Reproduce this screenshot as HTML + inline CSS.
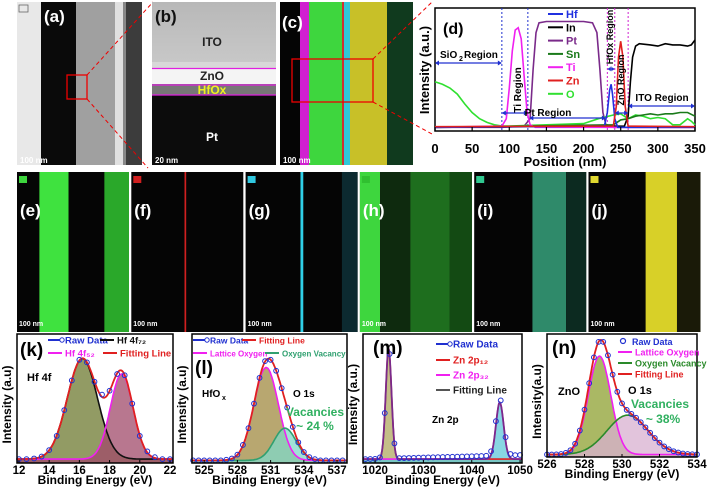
<!DOCTYPE html>
<html><head><meta charset="utf-8"><style>
html,body{margin:0;padding:0;background:#fff;}
svg{display:block;font-family:"Liberation Sans",Arial,sans-serif;}
text{font-weight:bold;}
</style></head><body>
<svg id="fig" width="708" height="490" viewBox="0 0 708 490" xmlns="http://www.w3.org/2000/svg">
<defs>
<linearGradient id="gb" x1="0" y1="0" x2="0" y2="1"><stop offset="0" stop-color="#b8b8b8"/><stop offset="1" stop-color="#c8c8c8"/></linearGradient>
</defs>
<!-- (a) -->
<g>
<rect x="17" y="2" width="125" height="163" fill="#333"/>
<rect x="17" y="2" width="24" height="163" fill="#e8e8e8"/>
<rect x="41" y="2" width="35" height="163" fill="#0a0a0a"/>
<rect x="76" y="2" width="40" height="163" fill="#a0a0a0"/>
<rect x="115" y="2" width="8" height="163" fill="#e0e0e0"/>
<rect x="123" y="2" width="3" height="163" fill="#888"/>
<rect x="126" y="2" width="16" height="163" fill="#3c3c3c"/>
<rect x="19" y="5" width="9" height="7" fill="none" stroke="#666" stroke-width="0.8"/>
<text x="44" y="22" font-size="17" fill="#fff">(a)</text>
<rect x="67" y="75" width="20" height="24" fill="none" stroke="#e00" stroke-width="1.3"/>
<text x="20" y="163" font-size="8" fill="#fff" font-weight="normal">100 nm</text>
</g>
<line x1="87" y1="75" x2="153" y2="2" stroke="#e00" stroke-dasharray="4,3" stroke-width="1"/>
<line x1="87" y1="99" x2="148" y2="168" stroke="#e00" stroke-dasharray="4,3" stroke-width="1"/>
<!-- (b) -->
<g>
<rect x="152" y="2" width="124" height="163" fill="#0c0c0c"/>
<rect x="152" y="2" width="124" height="62" fill="url(#gb)"/>
<rect x="152" y="62" width="124" height="6" fill="#d8d8d8"/>
<rect x="152" y="68" width="124" height="16" fill="#f4f4f4"/>
<rect x="152" y="84" width="124" height="11" fill="#777"/>
<line x1="152" y1="68.5" x2="276" y2="68.5" stroke="#e020e0" stroke-width="1.3"/>
<line x1="152" y1="85" x2="276" y2="85" stroke="#e020e0" stroke-width="1.3"/>
<line x1="152" y1="95" x2="276" y2="95" stroke="#e020e0" stroke-width="1.3"/>
<text x="155" y="22" font-size="17" fill="#111">(b)</text>
<text x="212" y="46" font-size="12" fill="#222" text-anchor="middle">ITO</text>
<text x="212" y="80" font-size="12" fill="#222" text-anchor="middle">ZnO</text>
<text x="212" y="94" font-size="12" fill="#f0f020" text-anchor="middle">HfOx</text>
<text x="212" y="141" font-size="12" fill="#fff" text-anchor="middle">Pt</text>
<text x="155" y="163" font-size="8" fill="#fff" font-weight="normal">20 nm</text>
</g>
<!-- (c) -->
<g>
<rect x="280" y="2" width="133" height="163" fill="#050505"/>
<rect x="300" y="2" width="9" height="163" fill="#d020d0"/>
<rect x="309" y="2" width="33" height="163" fill="#3ed63e"/>
<rect x="342" y="2" width="2" height="163" fill="#d03030"/>
<rect x="344" y="2" width="6" height="163" fill="#30c8d8"/>
<rect x="350" y="2" width="37" height="163" fill="#c8c028"/>
<rect x="387" y="2" width="26" height="163" fill="#103a1e"/>
<text x="282" y="28" font-size="17" fill="#fff">(c)</text>
<rect x="292" y="59" width="81" height="43" fill="none" stroke="#e00" stroke-width="1.3"/>
<text x="283" y="163" font-size="8" fill="#fff" font-weight="normal">100 nm</text>
</g>
<line x1="373" y1="59" x2="432" y2="2" stroke="#e00" stroke-dasharray="4,3" stroke-width="1"/>
<line x1="373" y1="102" x2="432" y2="134" stroke="#e00" stroke-dasharray="4,3" stroke-width="1"/>
<g id="pd"></g>
<g id="row2"></g>
<g id="pk"></g>
<g id="pl"></g>
<g id="pm"></g>
<g id="pn"></g>
</svg>
<script>
// ---- panel d data ----
const dTicks = [0,50,100,150,200,250,300,350];
const ptX = [0,90,120,128,132,136,140,150,200,212,218,222,226,230,240,350];
const ptY = [.03,.03,.04,.1,.5,.8,.88,.89,.89,.88,.8,.5,.15,.05,.03,.03];
const tiX = [0,90,96,100,104,108,112,116,120,124,128,135,350];
const tiY = [.03,.04,.1,.35,.65,.82,.84,.75,.45,.15,.05,.03,.03];
const hfX = [0,228,232,235,237,239,242,246,350];
const hfY = [.03,.04,.15,.33,.38,.3,.1,.03,.03];
const znX = [0,240,244,247,250,253,256,260,350];
const znY = [.035,.04,.2,.6,.73,.6,.2,.04,.035];
const inX = [0,255,260,263,266,270,275,290,300,310,320,330,340,345,350];
const inY = [.03,.04,.12,.4,.6,.69,.71,.7,.69,.71,.7,.7,.69,.7,.74];
const snX = [0,240,250,260,270,280,290,300,310,320,330,340,350];
const snY = [.03,.05,.09,.1,.12,.13,.14,.13,.14,.14,.15,.15,.12];
const oX = [0,5,10,20,30,40,50,60,70,80,90,100,150,200,220,240,250,260,270,280,290,300,310,320,330,340,345,350];
const oY = [.4,.39,.38,.35,.3,.22,.15,.1,.07,.05,.04,.04,.05,.06,.1,.13,.14,.1,.13,.12,.1,.11,.1,.05,.05,.1,.08,.05];
const dBounds = [90,125,232,242,260];
// ---- XPS data ----
const kCenters=[16.2,18.8], kAmps=[0.78,0.66], kWidths=[1.0,0.75], kTicks=[12,14,16,18,20,22];
const kRawX=[12,12.5,13,13.5,14,14.5,15,15.5,16,16.5,17,17.5,18,18.5,19,19.5,20,20.5,21,21.5,22];
const kRawY=[.03,.03,.035,.05,.10,.21,.41,.64,.80,.78,.63,.53,.56,.69,.68,.46,.21,.09,.045,.03,.03];
const lCenters=[530.6,532.3], lAmps=[0.72,0.25], lWidths=[1.1,1.0], lTicks=[525,528,531,534,537];
const lRawX=[524,524.5,525,525.5,526,526.5,527,527.5,528,528.5,529,529.5,530,530.5,531,531.5,532,532.5,533,533.5,534,534.5,535,535.5,536,536.5,537,537.5];
const lRawY=[.02,.02,.02,.02,.02,.02,.025,.035,.065,.14,.27,.46,.66,.79,.80,.715,.58,.43,.28,.16,.085,.045,.03,.02,.02,.02,.02,.02];
const mCenters=[1022.8,1045.8], mAmps=[0.86,0.44], mWidths=[0.6,0.8], mTicks=[1020,1030,1040,1050];
const mRawX=[1018,1019,1020,1021,1022,1023,1024,1025,1026,1027,1028,1029,1030,1031,1032,1033,1034,1035,1036,1037,1038,1039,1040,1041,1042,1043,1044,1045,1046,1047,1048,1049,1050];
const mRawY=[.03,.031,.032,.043,.387,.845,.152,.038,.038,.039,.04,.041,.042,.043,.044,.045,.046,.047,.048,.049,.05,.051,.052,.053,.054,.056,.091,.324,.485,.2,.07,.061,.062];
const nCenters=[528.8,530.3], nAmps=[0.8,0.32], nWidths=[0.6,1.1], nTicks=[526,528,530,532,534];
const nRawX=[526,526.25,526.5,526.75,527,527.25,527.5,527.75,528,528.25,528.5,528.75,529,529.25,529.5,529.75,530,530.25,530.5,530.75,531,531.25,531.5,531.75,532,532.25,532.5,532.75,533,533.25,533.5,533.75,534];
const nRawY=[.02,.02,.021,.024,.033,.055,.108,.215,.385,.60,.81,.936,.936,.827,.67,.53,.436,.383,.35,.319,.282,.241,.197,.154,.117,.086,.063,.047,.036,.028,.024,.022,.021];

const NS="http://www.w3.org/2000/svg";
function mk(tag, attrs, parent){const e=document.createElementNS(NS,tag);for(const k in attrs)e.setAttribute(k,attrs[k]);parent.appendChild(e);return e;}
function txt(s, attrs, parent){const e=mk('text',attrs,parent);e.textContent=s;return e;}
function pathFrom(xs,ys,sx,sy){return xs.map((x,i)=>(i?'L':'M')+sx(x).toFixed(1)+','+sy(ys[i]).toFixed(1)).join('');}

// ---- panel d ----
(function(){
  const g=document.getElementById('pd');
  const L=435,R=695,T=8,B=131;
  const sx=v=>L+(v-0)/(350-0)*(R-L);
  const sy=v=>B-v*(B-T);
  const bg=mk('rect',{x:L,y:T,width:R-L,height:B-T,fill:'#fff',stroke:'#000','stroke-width':1.5},g);
  
  
  dBounds.forEach((b,i)=>{const ln=mk('line',{x1:sx(b),y1:T,x2:sx(b),y2:B,stroke:i<2?'#2030d0':'#d020d0','stroke-dasharray':'2,2','stroke-width':1},g);
    
    });
  const series=[['pt',ptX,ptY,'#7a2a8a'],['o',oX,oY,'#30e030'],['sn',snX,snY,'#1a7a1a'],['in',inX,inY,'#000'],['ti',tiX,tiY,'#f020f0'],['hf',hfX,hfY,'#2030e0'],['zn',znX,znY,'#e02020']];
  series.forEach(s=>{const p=mk('path',{d:pathFrom(s[1],s[2],sx,sy),fill:'none',stroke:s[3],'stroke-width':1.6},g);
    
    });
  dTicks.forEach(t=>{mk('line',{x1:sx(t),y1:B,x2:sx(t),y2:B-4,stroke:'#000','stroke-width':1.2},g);
    const tl=txt(String(t),{x:sx(t),y:153,'font-size':13,'text-anchor':'middle'},g);
    
    });
  const xt=txt('Position (nm)',{x:565,y:166,'font-size':13,'text-anchor':'middle'},g);
  
  
  const yt=txt('Intensity (a.u.)',{x:0,y:0,'font-size':13,'text-anchor':'middle',transform:'translate(429,70) rotate(-90)'},g);
  
  
  txt('(d)',{x:443,y:34,'font-size':16},g);
  const names=[['Hf','#2030e0'],['In','#000'],['Pt','#7a2a8a'],['Sn','#1a7a1a'],['Ti','#f020f0'],['Zn','#e02020'],['O','#30e030']];
  names.forEach((n,i)=>{const y=14+i*13.3;
    const lg=mk('g',{},g);
    
    
    mk('line',{x1:548,y1:y,x2:563,y2:y,stroke:n[1],'stroke-width':2},lg);
    txt(n[0],{x:566,y:y+4,'font-size':11,fill:n[1]},lg);});
  function arrow(x1,x2,y){mk('line',{x1:sx(x1)+1,y1:y,x2:sx(x2)-1,y2:y,stroke:'#2030d0','stroke-width':1.2},g);
    mk('path',{d:`M${sx(x1)},${y}l4,-2.5v5z M${sx(x2)},${y}l-4,-2.5v5z`,fill:'#2030d0'},g);}
  arrow(0,90,63);arrow(90,125,113);arrow(127,230,118);arrow(232,242,69);arrow(242,260,113);arrow(260,350,106);
  txt('SiO',{x:440,y:58,'font-size':10},g);txt('2',{x:459,y:61,'font-size':7},g);txt('Region',{x:464,y:58,'font-size':10},g);
  txt('Ti Region',{x:0,y:0,'font-size':10,'text-anchor':'middle',transform:'translate(521,90) rotate(-90)'},g);
  txt('Pt Region',{x:548,y:116,'font-size':10,'text-anchor':'middle'},g);
  txt('HfOx Region',{x:0,y:0,'font-size':9,'text-anchor':'middle',transform:'translate(613,37) rotate(-90)'},g);
  txt('ZnO Region',{x:0,y:0,'font-size':9,'text-anchor':'middle',transform:'translate(624,80) rotate(-90)'},g);
  txt('ITO Region',{x:662,y:101,'font-size':10,'text-anchor':'middle'},g);
})();

// ---- row 2 maps ----
(function(){
  const g=document.getElementById('row2');
  const maps=[
    ['e','Pt','#3ed63e',[[0.2,0.46,'#3fe23f'],[0.78,1,'#2aa82a']]],
    ['f','Hf','#d02020',[[0.475,0.49,'#d02020']]],
    ['g','Zn','#30c8e0',[[0.49,0.515,'#30d0e8'],[0.86,1,'#0c2a30']]],
    ['h','O','#30c030',[[0,0.18,'#3ed63e'],[0.18,0.45,'#0e2a0e'],[0.45,0.8,'#1e6e1e'],[0.8,1,'#134a13']]],
    ['i','Sn','#30c890',[[0.52,0.82,'#2f8a6a'],[0.82,1,'#0c2a20']]],
    ['j','In','#e0d830',[[0.51,0.79,'#d8d028'],[0.79,1,'#1a1a08']]]];
  maps.forEach((m,i)=>{const x0=17+i*114.3,w=112,y0=172,h=160;
    const pg=mk('g',{},g);
    
    
    mk('rect',{x:x0,y:y0,width:w,height:h,fill:'#050505'},pg);
    m[3].forEach(b=>mk('rect',{x:x0+b[0]*w,y:y0,width:(b[1]-b[0])*w,height:h,fill:b[2]},pg));
    mk('rect',{x:x0+2,y:y0+4,width:8,height:7,fill:m[2]},pg);
    txt('('+m[0]+')',{x:x0+3,y:y0+44,'font-size':17,fill:'#fff'},pg);
    txt('100 nm',{x:x0+2,y:y0+154,'font-size':7,fill:'#fff','font-weight':'normal'},pg);});
})();

// ---- XPS panels ----
function gauss(x,c,a,w){return a*Math.exp(-(x-c)*(x-c)/(2*w*w));}
function xps(id,cfg){
  const g=document.getElementById(id);
  const {L,R,T,B,d0,d1}=cfg;
  const sx=v=>L+(v-d0)/(d1-d0)*(R-L);
  const sy=v=>B-v*(B-T);
  const box=mk('rect',{x:L,y:T,width:R-L,height:B-T,fill:'#fff'},g);
  
  
  const N=200, xs=[];for(let i=0;i<=N;i++)xs.push(d0+(d1-d0)*i/N);
  cfg.centers.forEach((c,j)=>{
    const ys=xs.map(x=>cfg.base+gauss(x,c,cfg.amps[j],cfg.widths[j]));
    const d=pathFrom(xs,ys,sx,sy)+`L${sx(d1)},${B}L${sx(d0)},${B}Z`;
    const f=mk('path',{d:d,fill:cfg.fills[j],'fill-opacity':0.75},g);
    
    
  });
  cfg.centers.forEach((c,j)=>{
    const ys=xs.map(x=>cfg.base+gauss(x,c,cfg.amps[j],cfg.widths[j]));
    const p=mk('path',{d:pathFrom(xs,ys,sx,sy),fill:'none',stroke:cfg.lines[j],'stroke-width':1.6},g);
    
    
  });
  const sum=xs.map(x=>cfg.base+cfg.centers.reduce((s,c,j)=>s+gauss(x,c,cfg.amps[j],cfg.widths[j]),0));
  const fp=mk('path',{d:pathFrom(xs,sum,sx,sy),fill:'none',stroke:cfg.fitColor,'stroke-width':1.8},g);
  
  
  cfg.rawX.forEach((x,i)=>{const c=mk('circle',{cx:sx(x),cy:sy(cfg.rawY[i]),r:2.4,fill:'none',stroke:'#2030d0','stroke-width':1},g);
    
    });
  mk('rect',{x:L,y:T,width:R-L,height:B-T,fill:'none',stroke:'#000','stroke-width':1.5},g);
  cfg.ticks.forEach(t=>{mk('line',{x1:sx(t),y1:B,x2:sx(t),y2:B-3,stroke:'#000'},g);
    const tl=txt(String(t),{x:sx(t),y:B+11,'font-size':11.5,'text-anchor':'middle','font-weight':'normal'},g);
    
    });
  const xt=txt('Binding Energy (eV)',{x:(L+R)/2,y:B+21,'font-size':12,'text-anchor':'middle'},g);
  
  
  const yt=txt(cfg.ytitle,{x:0,y:0,'font-size':12,'text-anchor':'middle',transform:`translate(${L-6},${(T+B)/2+6}) rotate(-90)`},g);
  
  
  cfg.extra(g);
}
function legLine(g,x,y,col,label,circ,fs){mk('line',{x1:x,y1:y,x2:x+14,y2:y,stroke:col,'stroke-width':2},g);
  if(circ)mk('circle',{cx:x+14,cy:y,r:2.2,fill:'#fff',stroke:'#2030d0'},g);
  txt(label,{x:x+17,y:y+3.5,'font-size':fs||9.5,fill:circ?'#2030d0':col},g);}
xps('pk',{L:17,R:173,T:334,B:463,d0:11.87,d1:22.2,centers:kCenters,amps:kAmps,widths:kWidths,base:0.03,
  fills:['#6e7a30','#a04a6a'],lines:['#111','#f020f0'],fitColor:'#e02020',rawX:kRawX,rawY:kRawY,ticks:kTicks,ytitle:'Intensity (a.u)',
  extra:g=>{txt('(k)',{x:20,y:356,'font-size':19},g);legLine(g,48,340,'#2030d0','Raw Data',true);legLine(g,100,340,'#111','Hf 4f\u2087\u2082');
    legLine(g,48,353,'#f020f0','Hf 4f\u2085\u2082');legLine(g,103,353,'#e02020','Fitting Line');txt('Hf 4f',{x:27,y:381,'font-size':11},g);}});
xps('pl',{L:192,R:347,T:334,B:463,d0:523.9,d1:537.9,centers:lCenters,amps:lAmps,widths:lWidths,base:0.02,
  fills:['#a08a40','#80d8c8'],lines:['#f020f0','#30a070'],fitColor:'#e02020',rawX:lRawX,rawY:lRawY,ticks:lTicks,ytitle:'Intensity (a.u)',
  extra:g=>{txt('(l)',{x:195,y:374,'font-size':19},g);legLine(g,193,340,'#2030d0','Raw Data',true,8.5);legLine(g,242,340,'#e02020','Fitting Line',false,8.5);
    legLine(g,193,353,'#f020f0','Lattice Oxygen',false,8);legLine(g,265,353,'#30a070','Oxygen Vacancy',false,8);
    txt('HfO',{x:202,y:397,'font-size':10,'font-weight':'normal'},g);txt('x',{x:222,y:400,'font-size':7},g);txt('O 1s',{x:293,y:397,'font-size':10,'font-weight':'normal'},g);
    txt('Vacancies',{x:315,y:416,'font-size':12,fill:'#30b060','text-anchor':'middle'},g);txt('~ 24 %',{x:315,y:430,'font-size':12,fill:'#30b060','text-anchor':'middle'},g);}});
xps('pm',{L:363,R:522,T:334,B:463,d0:1017.5,d1:1050.4,centers:mCenters,amps:mAmps,widths:mWidths,base:0.03,
  fills:['#b0a860','#60c8d8'],lines:['#e02020','#f020f0'],fitColor:'#7a2a8a',rawX:mRawX,rawY:mRawY,ticks:mTicks,ytitle:'Intensity (a.u.)',
  extra:g=>{txt('(m)',{x:373,y:354,'font-size':19},g);legLine(g,436,344,'#2030d0','Raw Data',true,10);legLine(g,436,360,'#e02020','Zn 2p\u2081\u2082',false,10);
    legLine(g,436,375,'#f020f0','Zn 2p\u2083\u2082',false,10);legLine(g,436,390,'#555','Fitting Line',false,10);
    g.lastChild.setAttribute('fill','#222');txt('Zn 2p',{x:432,y:423,'font-size':10,'font-weight':'normal'},g);}});
xps('pn',{L:547,R:697,T:334,B:457,d0:526,d1:534,centers:nCenters,amps:nAmps,widths:nWidths,base:0.02,
  fills:['#8ea030','#d8b0d0'],lines:['#f020f0','#2a8a2a'],fitColor:'#e02020',rawX:nRawX,rawY:nRawY,ticks:nTicks,ytitle:'Intensity(a.u)',
  extra:g=>{txt('(n)',{x:552,y:354,'font-size':19},g);
    mk('circle',{cx:623,cy:341,r:2.5,fill:'none',stroke:'#2030d0','stroke-width':1.2},g);txt('Raw Data',{x:632,y:345,'font-size':9,fill:'#2030d0'},g);
    legLine(g,618,352,'#f020f0','Lattice Oxygen',false,9);legLine(g,618,363,'#2a8a2a','Oxygen Vacancy',false,9);legLine(g,618,374,'#e02020','Fitting Line',false,9);
    txt('ZnO',{x:558,y:395,'font-size':11,'font-weight':'normal'},g);txt('O 1s',{x:628,y:394,'font-size':11,'font-weight':'normal'},g);
    txt('Vacancies',{x:660,y:408,'font-size':12,fill:'#30b060','text-anchor':'middle'},g);txt('~ 38%',{x:663,y:423,'font-size':12,fill:'#30b060','text-anchor':'middle'},g);}});
</script>
</body></html>
